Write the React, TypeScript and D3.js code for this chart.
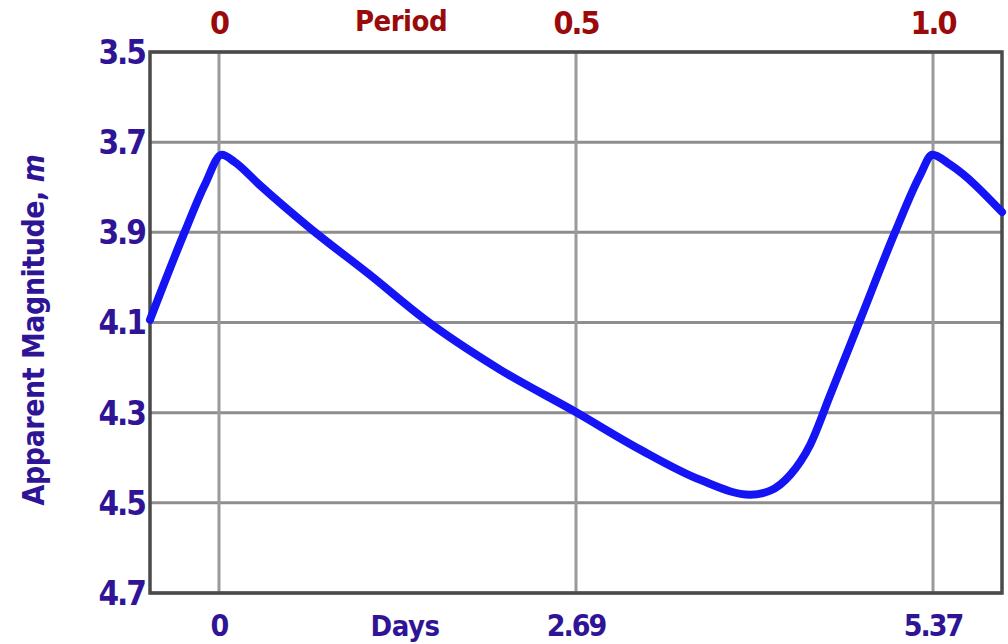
import React from "react";
import * as d3 from "d3";

const phaseTicks = [0, 0.5, 1.0];
const phaseTickLabels = ["0", "0.5", "1.0"];
const dayTickLabels = ["0", "2.69", "5.37"];
const magTicks = [3.5, 3.7, 3.9, 4.1, 4.3, 4.5, 4.7];

const curvePhase = [-0.0966, -0.048, -0.02, 0.004, 0.022, 0.057, 0.127, 0.211, 0.289, 0.394, 0.499, 0.59, 0.674, 0.744, 0.772, 0.8, 0.828, 0.856, 0.898, 0.947, 0.982, 0.999, 1.024, 1.0966];
const curveMag = [4.094, 3.899, 3.795, 3.728, 3.744, 3.795, 3.89, 3.994, 4.094, 4.205, 4.298, 4.382, 4.449, 4.482, 4.473, 4.438, 4.371, 4.261, 4.094, 3.899, 3.773, 3.728, 3.75, 3.855];

const W = 1008;
const H = 644;
const left = 150;
const right = 1002;
const top = 52;
const bottom = 593;

const labelFont = "'Liberation Sans Narrow', 'DejaVu Sans Condensed', 'Open Sans', sans-serif";
const blueText = "#2f1596";
const redText = "#9a0a0a";

export default function App() {
  const x = d3.scaleLinear().domain([-0.0966, 1.0966]).range([left, right]);
  const y = d3.scaleLinear().domain([3.5, 4.7]).range([top, bottom]);
  const pts: [number, number][] = curvePhase.map((p, i) => [p, curveMag[i]]);
  const line = d3
    .line<[number, number]>()
    .x((d) => x(d[0]))
    .y((d) => y(d[1]))
    .curve(d3.curveMonotoneX);

  return (
    <svg width={W} height={H} style={{ position: "absolute", left: 0, top: 0, background: "#fff" }}>
      {magTicks.map((m) => (
        <line key={"h" + m} x1={left} x2={right} y1={y(m)} y2={y(m)} stroke="#8e8e8e" strokeWidth={3} />
      ))}
      {phaseTicks.map((p) => (
        <line key={"v" + p} x1={x(p)} x2={x(p)} y1={top} y2={bottom} stroke="#9a9a9a" strokeWidth={3} />
      ))}
      <rect x={left} y={top} width={right - left} height={bottom - top} fill="none" stroke="#4a4a4a" strokeWidth={3.5} />
      <path d={line(pts) || ""} fill="none" stroke="#1414f5" strokeWidth={8} strokeLinejoin="round" strokeLinecap="round" />
      {magTicks.map((m) => (
        <text key={"yl" + m} x={left - 5} y={y(m)} dy="0.36em" textAnchor="end" fontFamily={labelFont} fontWeight="bold" fontSize={33} fill={blueText} letterSpacing={-2}>
          {m.toFixed(1)}
        </text>
      ))}
      {phaseTicks.map((p, i) => (
        <text key={"tl" + p} x={x(p)} y={34} textAnchor="middle" fontFamily={labelFont} fontWeight="bold" fontSize={32} fill={redText} letterSpacing={-2}>
          {phaseTickLabels[i]}
        </text>
      ))}
      <text x={401} y={31} textAnchor="middle" fontFamily={labelFont} fontWeight="bold" fontSize={29} fill={redText} letterSpacing={-0.5}>
        Period
      </text>
      {phaseTicks.map((p, i) => (
        <text key={"bl" + p} x={x(p)} y={636} textAnchor="middle" fontFamily={labelFont} fontWeight="bold" fontSize={30} fill={blueText} letterSpacing={-2}>
          {dayTickLabels[i]}
        </text>
      ))}
      <text x={405} y={636} textAnchor="middle" fontFamily={labelFont} fontWeight="bold" fontSize={29} fill={blueText} letterSpacing={-0.5}>
        Days
      </text>
      <text transform={`translate(44,${330}) rotate(-90)`} textAnchor="middle" fontFamily={labelFont} fontWeight={600} fontSize={30} fill={blueText} letterSpacing={-0.5}>
        Apparent Magnitude, <tspan fontStyle="italic">m</tspan>
      </text>
    </svg>
  );
}
